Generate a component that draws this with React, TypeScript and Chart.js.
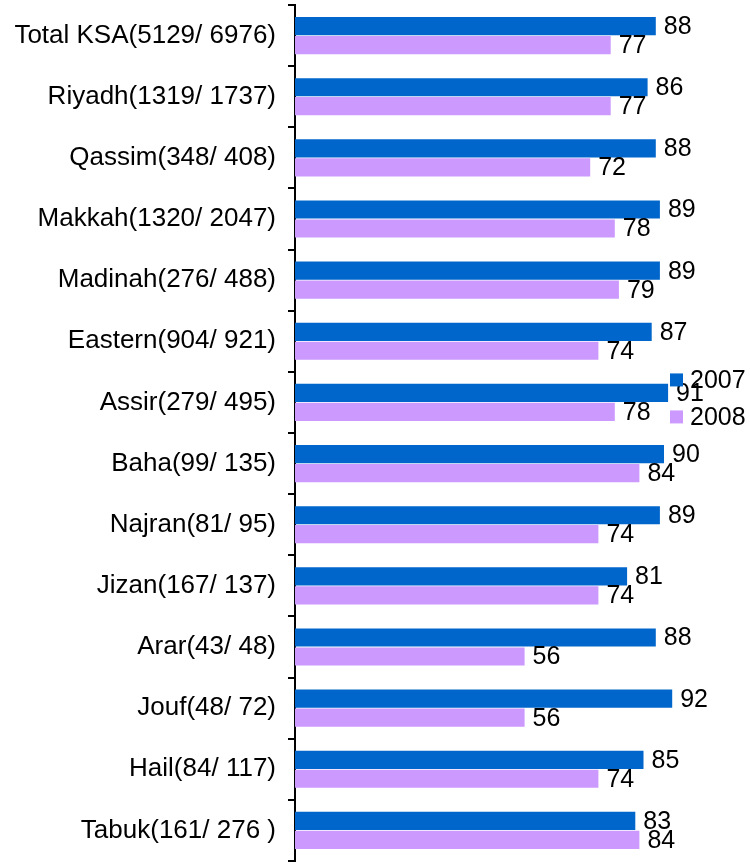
import React, { useEffect, useRef } from "react";
import { Chart, registerables } from "chart.js";

Chart.register(...registerables);

const categories = [
  "Total KSA(5129/ 6976)",
  "Riyadh(1319/ 1737)",
  "Qassim(348/ 408)",
  "Makkah(1320/ 2047)",
  "Madinah(276/ 488)",
  "Eastern(904/ 921)",
  "Assir(279/ 495)",
  "Baha(99/ 135)",
  "Najran(81/ 95)",
  "Jizan(167/ 137)",
  "Arar(43/ 48)",
  "Jouf(48/ 72)",
  "Hail(84/ 117)",
  "Tabuk(161/ 276 )",
];
const series2007 = [88, 86, 88, 89, 89, 87, 91, 90, 89, 81, 88, 92, 85, 83];
const series2008 = [77, 77, 72, 78, 79, 74, 78, 84, 74, 74, 56, 56, 74, 84];
const seriesNames = ["2007", "2008"];
const seriesColors = ["#0066CC", "#CC99FF"];
const axisMin = 0;
const axisMax = 110;

const FONT = "'Liberation Sans', Arial, Helvetica, sans-serif";
const CAT_FONT_SIZE = 26;
const VAL_FONT_SIZE = 25;

const valueLabelPlugin = {
  id: "valueLabels",
  afterDatasetsDraw(chart: any) {
    const ctx = chart.ctx;
    ctx.save();
    ctx.font = `${VAL_FONT_SIZE}px ${FONT}`;
    ctx.fillStyle = "#000";
    ctx.textAlign = "left";
    ctx.textBaseline = "middle";
    chart.data.datasets.forEach((ds: any, di: number) => {
      const meta = chart.getDatasetMeta(di);
      meta.data.forEach((bar: any, i: number) => {
        ctx.fillText(String(ds.data[i]), bar.x + 8, bar.y + 1);
      });
    });
    ctx.restore();
  },
};

const sideLegendPlugin = {
  id: "sideLegend",
  afterDraw(chart: any) {
    const ctx = chart.ctx;
    const area = chart.chartArea;
    ctx.save();
    ctx.font = `${VAL_FONT_SIZE}px ${FONT}`;
    ctx.textAlign = "left";
    ctx.textBaseline = "middle";
    const x = area.right - 76;
    const y0 = area.top + (area.bottom - area.top) * 0.438;
    chart.data.datasets.forEach((ds: any, i: number) => {
      const cy = y0 + i * 37;
      ctx.fillStyle = ds.backgroundColor;
      ctx.fillRect(x, cy - 6.5, 13, 13);
      ctx.fillStyle = "#000";
      ctx.fillText(ds.label, x + 20, cy + 1);
    });
    ctx.restore();
  },
};

export default function App() {
  const ref = useRef<HTMLCanvasElement>(null);
  useEffect(() => {
    document.body.style.margin = "0";
    const chart = new Chart(ref.current as HTMLCanvasElement, {
      type: "bar",
      data: {
        labels: categories,
        datasets: [
          {
            label: seriesNames[0],
            data: series2007,
            backgroundColor: seriesColors[0],
            categoryPercentage: 0.62,
            barPercentage: 0.96,
          },
          {
            label: seriesNames[1],
            data: series2008,
            backgroundColor: seriesColors[1],
            categoryPercentage: 0.62,
            barPercentage: 0.96,
          },
        ],
      },
      options: {
        indexAxis: "y",
        animation: false,
        responsive: false,
        maintainAspectRatio: false,
        layout: { padding: { top: 5, bottom: 3, right: 4, left: 0 } },
        plugins: { legend: { display: false }, tooltip: { enabled: false } },
        scales: {
          x: { display: false, min: axisMin, max: axisMax },
          y: {
            offset: true,
            grid: {
              offset: true,
              drawOnChartArea: false,
              drawTicks: true,
              tickLength: 7,
              color: "#000",
              lineWidth: 2,
            },
            border: { display: true, color: "#000", width: 2 },
            ticks: {
              color: "#000",
              font: { family: FONT, size: CAT_FONT_SIZE },
              padding: 12,
              autoSkip: false,
            },
            afterFit: (s: any) => {
              s.width = 295;
              s.paddingTop = 0;
              s.paddingBottom = 0;
            },
          },
        },
      },
      plugins: [valueLabelPlugin, sideLegendPlugin],
    } as any);
    return () => chart.destroy();
  }, []);
  return <canvas ref={ref} width={750} height={864} style={{ display: "block" }} />;
}
